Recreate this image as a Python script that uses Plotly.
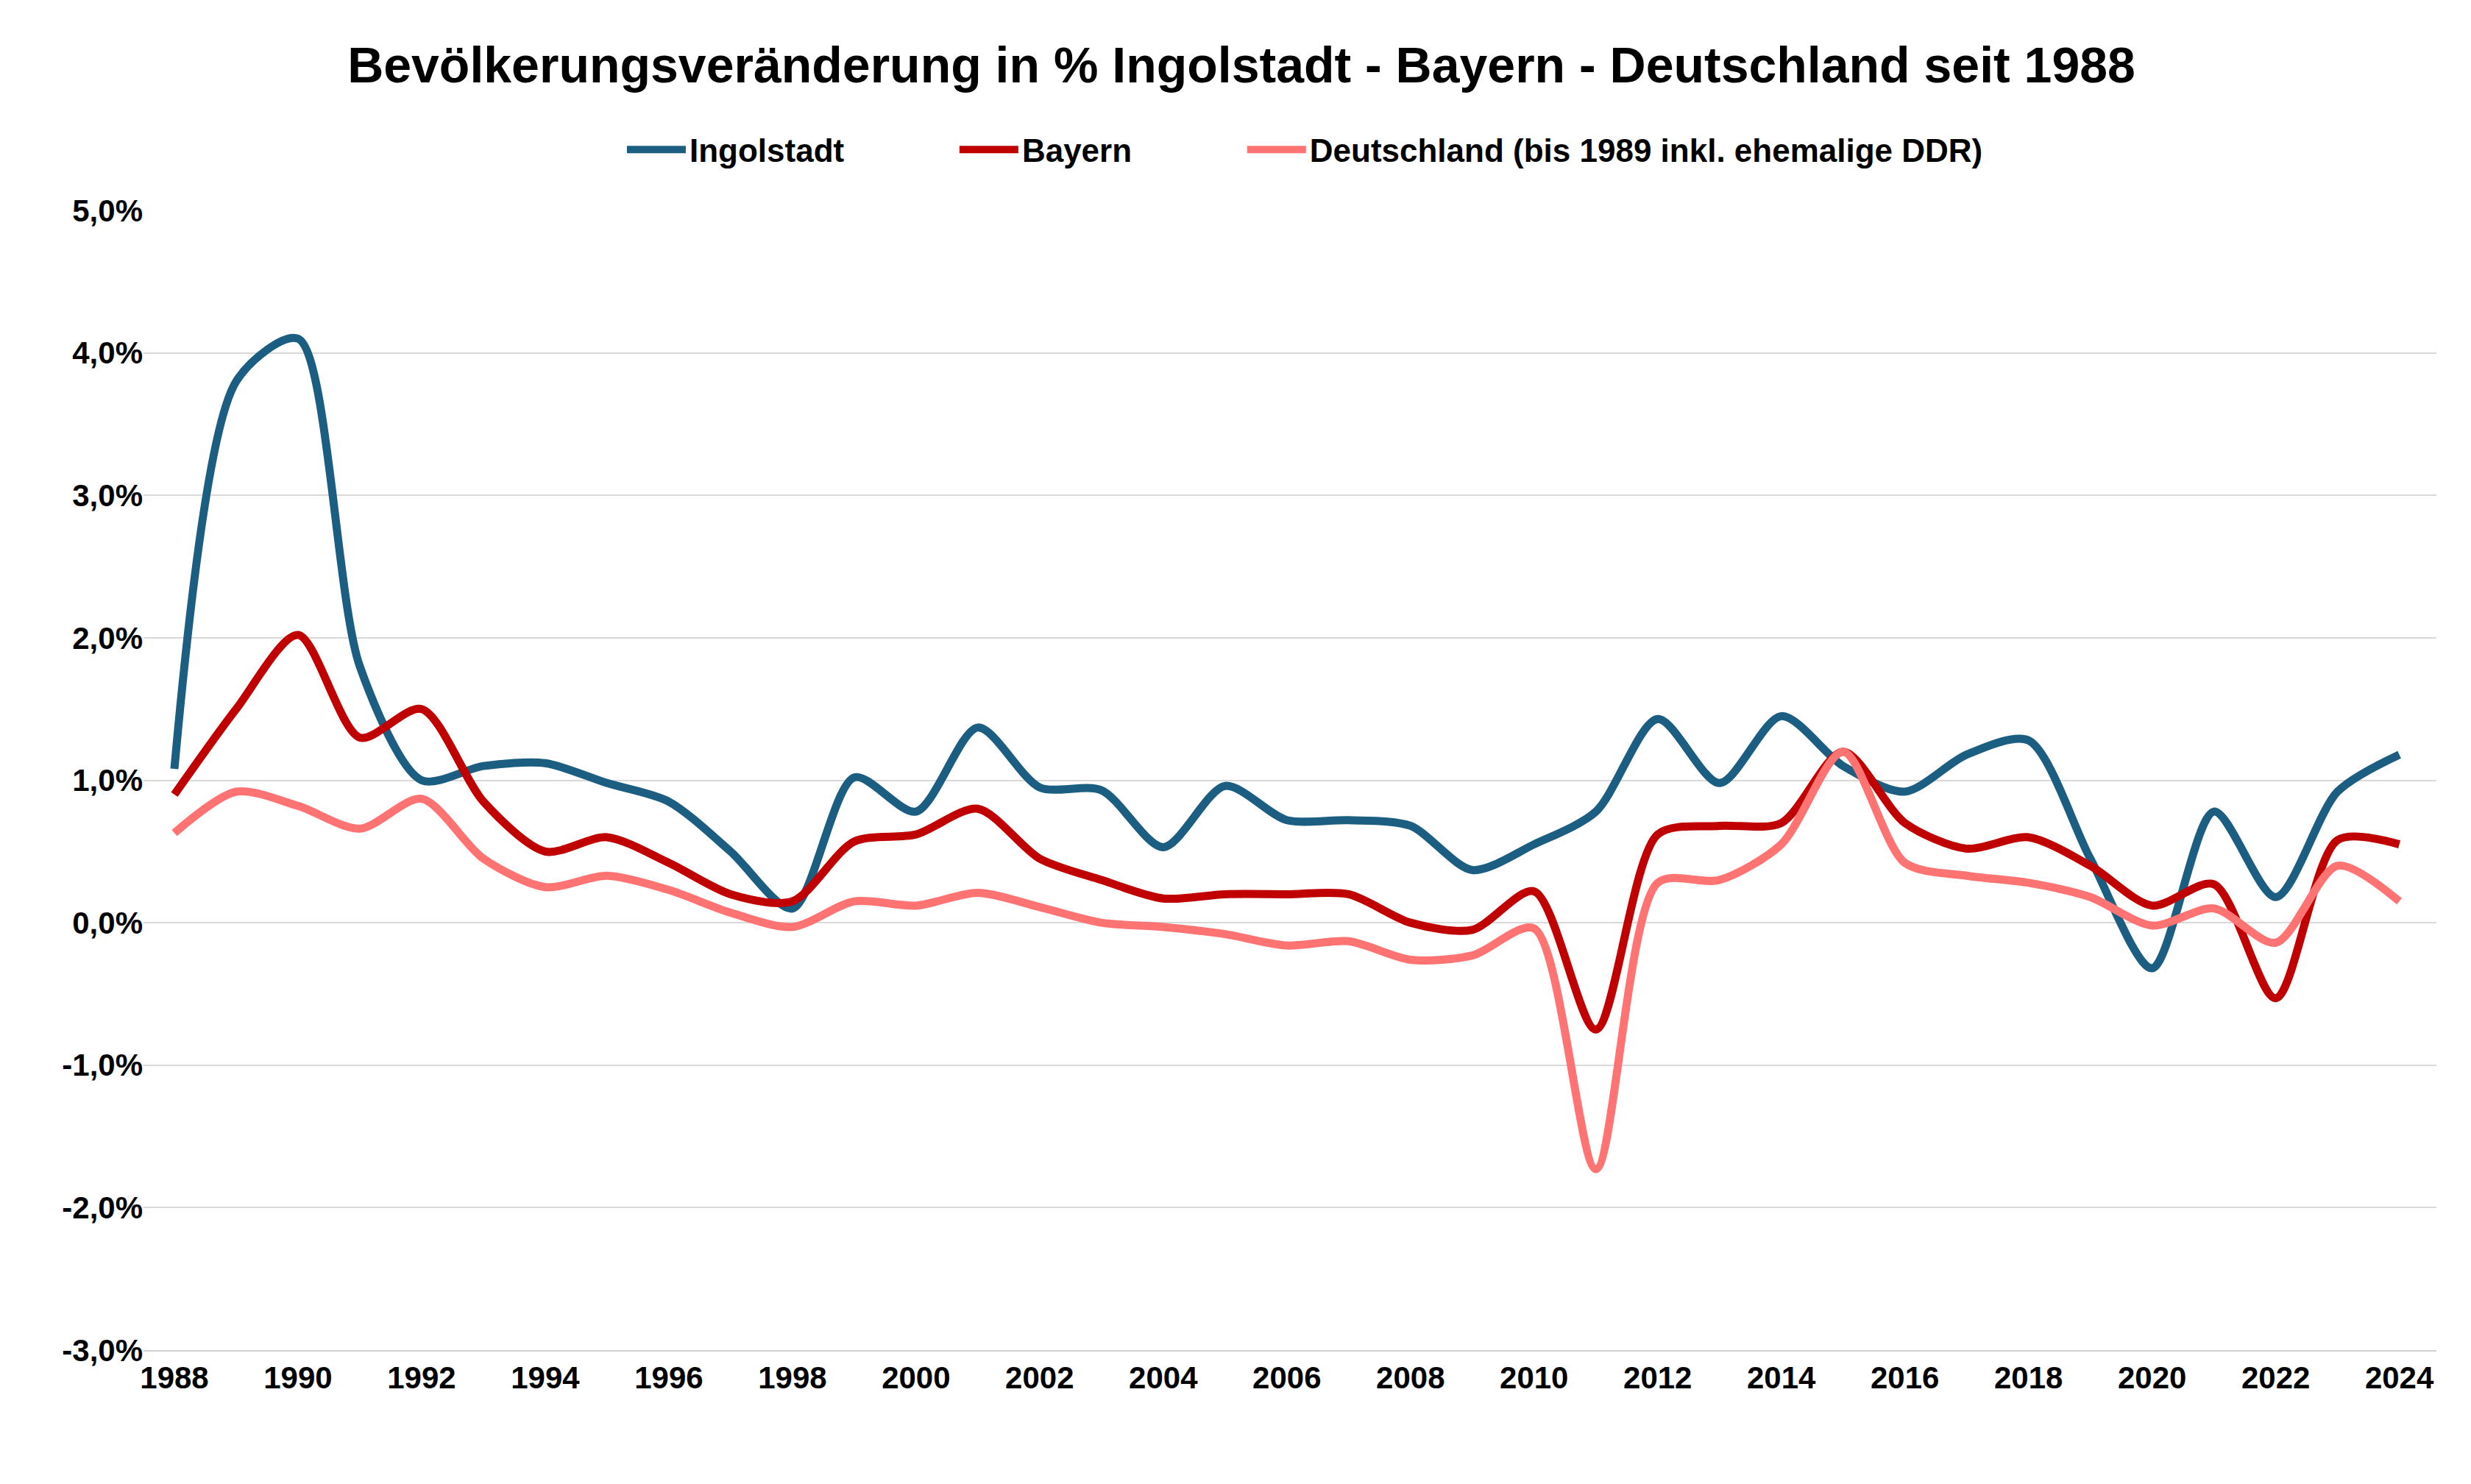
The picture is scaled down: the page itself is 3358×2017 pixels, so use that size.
import plotly.graph_objects as go

years = list(range(1988, 2025))
ingolstadt = [1.08, 3.8, 4.1, 1.8, 1.0, 1.1, 1.12, 0.98, 0.85, 0.5, 0.1, 1.02, 0.78, 1.37, 0.95,
              0.93, 0.53, 0.96, 0.72, 0.72, 0.68, 0.37, 0.55, 0.78, 1.43, 0.98, 1.45, 1.1, 0.92,
              1.18, 1.28, 0.45, -0.32, 0.78, 0.18, 0.92, 1.18]
bayern = [0.9, 1.5, 2.02, 1.3, 1.5, 0.85, 0.5, 0.6, 0.42, 0.2, 0.15, 0.57, 0.62, 0.8, 0.45,
          0.3, 0.17, 0.2, 0.2, 0.2, 0.0, -0.05, 0.22, -0.75, 0.62, 0.68, 0.7, 1.2, 0.7,
          0.52, 0.6, 0.4, 0.12, 0.27, -0.53, 0.58, 0.55]
deutschland = [0.63, 0.92, 0.82, 0.66, 0.87, 0.45, 0.25, 0.33, 0.23, 0.07, -0.03, 0.15, 0.12,
               0.21, 0.11, 0.0, -0.03, -0.08, -0.16, -0.13, -0.26, -0.23, -0.04, -1.73, 0.28,
               0.3, 0.55, 1.2, 0.42, 0.33, 0.28, 0.18, -0.02, 0.1, -0.14, 0.4, 0.15]

series = [
    ("Ingolstadt", ingolstadt, "#1b5e82"),
    ("Bayern", bayern, "#c00000"),
    ("Deutschland (bis 1989 inkl. ehemalige DDR)", deutschland, "#ff7373"),
]

fig = go.Figure()
for name, vals, color in series:
    fig.add_trace(go.Scatter(
        x=years, y=[v / 100 for v in vals], name=f"<b>{name}</b>" + "&nbsp;" * 12, mode="lines",
        line=dict(color=color, width=11, shape="spline", smoothing=0.8)
    ))

fig.update_layout(
    width=3358, height=2017,
    paper_bgcolor="white", plot_bgcolor="white",
    font=dict(family="Liberation Sans, Arial", size=42, color="black"),
    title=dict(text="<b>Bevölkerungsveränderung in % Ingolstadt - Bayern - Deutschland seit 1988</b>",
               x=0.5, xanchor="center", yref="container", y=0.96, yanchor="middle",
               font=dict(size=68)),
    legend=dict(orientation="h", x=0.53, xanchor="center", yref="container", y=0.903,
                yanchor="middle", font=dict(size=44), itemwidth=80, traceorder="normal"),
    margin=dict(l=187, r=55, t=278, b=190),
)
fig.update_xaxes(range=[1987.5, 2024.6], tickmode="array", tickvals=list(range(1988, 2025, 2)),
                 ticktext=[f"<b>{y}</b>" for y in range(1988, 2025, 2)],
                 showgrid=False, showline=True, linecolor="#d0d0d0", linewidth=2,
                 ticks="", tickfont=dict(size=42))
fig.update_yaxes(range=[-0.03, 0.05], tickvals=[i / 100 for i in range(-3, 6)],
                 ticktext=[f"<b>{i},0%</b>" for i in range(-3, 6)],
                 showgrid=True, gridcolor="#d9d9d9", gridwidth=2, zeroline=False,
                 tickfont=dict(size=42), ticks="", ticklen=20)

fig.write_html("out.html")
